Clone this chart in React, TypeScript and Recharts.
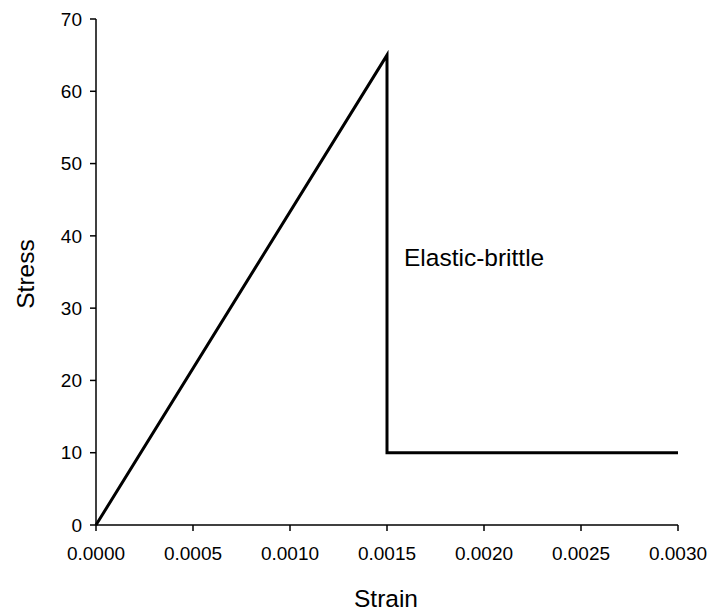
import React from 'react';
import {
  LineChart,
  Line,
  XAxis,
  YAxis,
  Label,
  ReferenceDot,
} from 'recharts';

// strain / stress points of the elastic-brittle curve
const strain = [0, 0.0015, 0.0015, 0.003];
const stress = [0, 65, 10, 10];

const xTicks = [0, 0.0005, 0.001, 0.0015, 0.002, 0.0025, 0.003];
const yTicks = [0, 10, 20, 30, 40, 50, 60, 70];

const annotation = { x: 0.0015, y: 37, text: 'Elastic-brittle' };

const data = strain.map((s, i) => ({ strain: s, stress: stress[i] }));

const FONT = 'Arial, "Liberation Sans", Helvetica, sans-serif';

export default function App() {
  return (
    <div style={{ position: 'absolute', left: 0, top: 0, width: 708, height: 613, background: '#fff' }}>
      <LineChart
        width={708}
        height={613}
        data={data}
        margin={{ top: 19, right: 30, left: 0, bottom: 0 }}
      >
        <XAxis
          type="number"
          dataKey="strain"
          domain={[0, 0.003]}
          ticks={xTicks}
          tickFormatter={(v: number) => v.toFixed(4)}
          height={88}
          stroke="#000"
          strokeWidth={1.5}
          tickSize={6}
          tickMargin={16}
          tick={{ fill: '#000', fontSize: 19, fontFamily: FONT }}
        >
          <Label
            content={({ viewBox }: any) => (
              <text
                x={viewBox.x + viewBox.width / 2 - 1}
                y={viewBox.y + 73}
                textAnchor="middle"
                dominantBaseline="central"
                fontSize={24.5}
                fontFamily={FONT}
                fill="#000"
              >
                Strain
              </text>
            )}
          />
        </XAxis>
        <YAxis
          type="number"
          domain={[0, 70]}
          ticks={yTicks}
          width={96}
          stroke="#000"
          strokeWidth={1.5}
          tickSize={6}
          tickMargin={8}
          tick={{ fill: '#000', fontSize: 19, fontFamily: FONT }}
        >
          <Label
            content={({ viewBox }: any) => {
              const cx = viewBox.x + 25;
              const cy = viewBox.y + viewBox.height / 2 + 2;
              return (
                <text
                  x={cx}
                  y={cy}
                  transform={`rotate(-90 ${cx} ${cy})`}
                  textAnchor="middle"
                  dominantBaseline="central"
                  fontSize={24.5}
                  fontFamily={FONT}
                  fill="#000"
                >
                  Stress
                </text>
              );
            }}
          />
        </YAxis>
        <Line
          type="linear"
          dataKey="stress"
          stroke="#000"
          strokeWidth={3}
          dot={false}
          activeDot={false}
          isAnimationActive={false}
        />
        <ReferenceDot
          x={annotation.x}
          y={annotation.y}
          r={0}
          stroke="none"
          fill="none"
          label={({ viewBox }: any) => (
            <text
              x={viewBox.x + 17}
              y={viewBox.y}
              dominantBaseline="central"
              fontSize={24.5}
              fontFamily={FONT}
              fill="#000"
            >
              {annotation.text}
            </text>
          )}
        />
      </LineChart>
    </div>
  );
}
